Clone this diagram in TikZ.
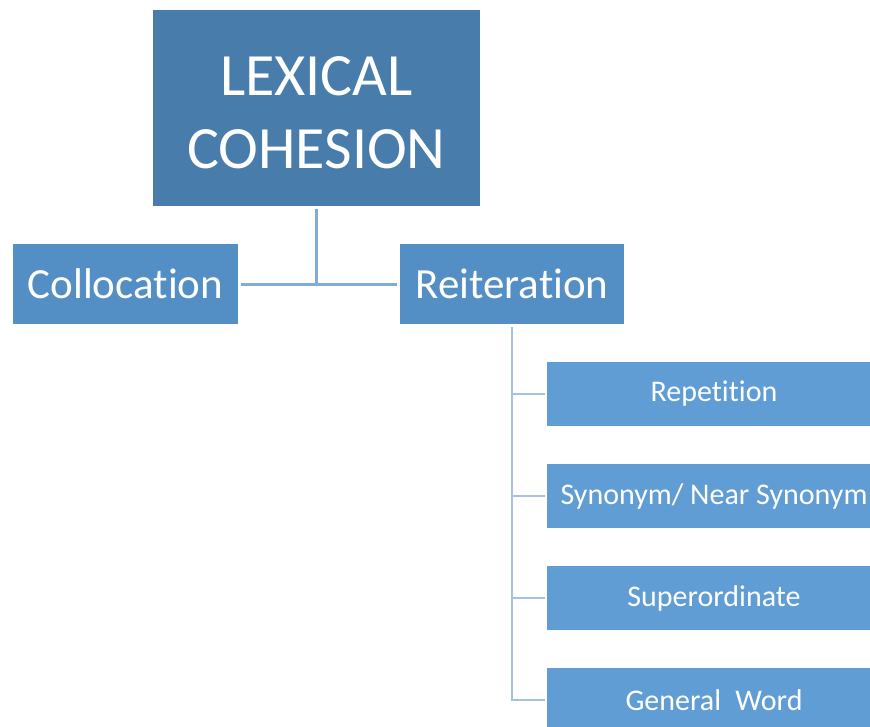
\documentclass[tikz,border=0pt]{standalone}
\usepackage{fontspec}
\setmainfont{Carlito}[Ligatures=CommonOff]
\definecolor{topblue}{HTML}{487CAB}
\definecolor{midblue}{HTML}{538EC4}
\definecolor{leafblue}{HTML}{619DD5}
\definecolor{linkblue}{HTML}{7FAADB}
\definecolor{leaflink}{HTML}{A5C2E6}
\begin{document}
\begin{tikzpicture}[x=1pt,y=-1pt,
  box/.style={rectangle, inner sep=0pt, text=white, align=center},
  topbox/.style={box, fill=topblue, minimum width=327pt, minimum height=196pt},
  toptext/.style={text=white, align=center, inner sep=0pt,
    font=\fontsize{60}{73}\selectfont},
  midbox/.style={box, fill=midblue, minimum width=225pt, minimum height=80pt,
    font=\fontsize{43}{50}\selectfont},
  leafbox/.style={box, fill=leafblue, minimum width=334pt, minimum height=64pt,
    font=\fontsize{30}{36}\selectfont},
  link/.style={draw=linkblue, line width=3pt},
  leaflinkstyle/.style={draw=leaflink, line width=2.2pt}]
\useasboundingbox (0,0) rectangle (870,726);
\clip (0,0) rectangle (870,726);

% root and first level
\node[topbox, label={[toptext, yshift=-5pt]center:LEXICAL\\COHESION}] (lex) at (316.5,108) {};
\node[midbox] (coll) at (125.5,284) {Collocation};
\node[midbox, minimum width=224pt] (reit) at (512,284) {Reiteration};

% kinds of reiteration
\node[leafbox] (rep) at (714,394) {Repetition};
\node[leafbox] (syn) at (714,496) {Synonym/ Near Synonym};
\node[leafbox] (sup) at (714,598) {Superordinate};
\node[leafbox] (gen) at (714,700) {General\hspace{0.25em} Word};

% connectors from the root
\draw[link, shorten <=3pt, shorten >=3pt] (lex.south) |- (coll.east);
\draw[link, shorten <=3pt, shorten >=3pt] (lex.south) |- (reit.west);

% connectors from Reiteration
\foreach \leaf in {rep,syn,sup,gen}
  \draw[leaflinkstyle, shorten <=3pt, shorten >=2pt] (reit.south) |- (\leaf.west);
\end{tikzpicture}
\end{document}
